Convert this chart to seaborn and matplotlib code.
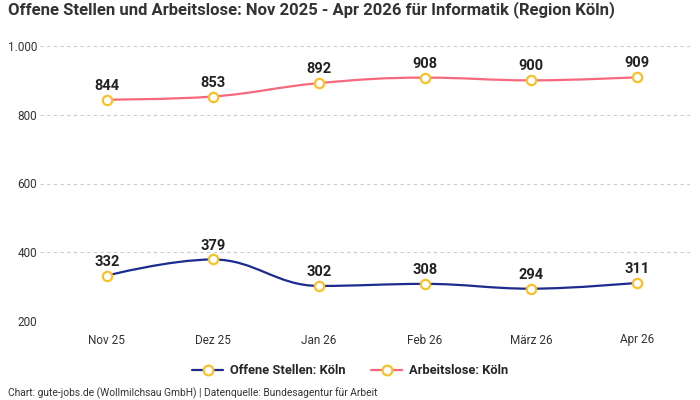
import matplotlib
matplotlib.use("Agg")
import matplotlib.pyplot as plt
import seaborn as sns
import pandas as pd
from matplotlib.path import Path
from matplotlib.patches import PathPatch
from matplotlib.lines import Line2D

months = ["Nov 25", "Dez 25", "Jan 26", "Feb 26", "März 26", "Apr 26"]
offene_stellen = [332, 379, 302, 308, 294, 311]
arbeitslose = [844, 853, 892, 908, 900, 909]
series_names = ["Offene Stellen: Köln", "Arbeitslose: Köln"]
series_colors = ["#1c2b8f", "#f7687d"]
y_ticks = [200, 400, 600, 800, 1000]
y_labels = ["200", "400", "600", "800", "1.000"]

sns.set_theme(style="white")
plt.rcParams["font.family"] = ["Roboto", "DejaVu Sans"]


def spline_path(xs, ys, smoothing=1.5):
    # cubic bezier through the points, control points like a highcharts spline
    denom = smoothing + 1
    n = len(xs)
    left = [None] * n
    right = [None] * n
    for i in range(n):
        if i == 0 or i == n - 1:
            left[i] = (xs[i], ys[i])
            right[i] = (xs[i], ys[i])
            continue
        lx = (smoothing * xs[i] + xs[i - 1]) / denom
        ly = (smoothing * ys[i] + ys[i - 1]) / denom
        rx = (smoothing * xs[i] + xs[i + 1]) / denom
        ry = (smoothing * ys[i] + ys[i + 1]) / denom
        corr = (ry - ly) * (rx - xs[i]) / (rx - lx) + ys[i] - ry
        ly += corr
        ry += corr
        if ly > ys[i - 1] and ly > ys[i]:
            ly = max(ys[i - 1], ys[i])
            ry = 2 * ys[i] - ly
        elif ly < ys[i - 1] and ly < ys[i]:
            ly = min(ys[i - 1], ys[i])
            ry = 2 * ys[i] - ly
        if ry > ys[i + 1] and ry > ys[i]:
            ry = max(ys[i + 1], ys[i])
            ly = 2 * ys[i] - ry
        elif ry < ys[i + 1] and ry < ys[i]:
            ry = min(ys[i + 1], ys[i])
            ly = 2 * ys[i] - ry
        left[i] = (lx, ly)
        right[i] = (rx, ry)
    verts = [(xs[0], ys[0])]
    codes = [Path.MOVETO]
    for i in range(1, n):
        verts += [right[i - 1], left[i], (xs[i], ys[i])]
        codes += [Path.CURVE4] * 3
    return Path(verts, codes)


fig = plt.figure(figsize=(7, 4), dpi=100)
ax = fig.add_axes([40 / 700, 1 - 321 / 400, 650 / 700, 275 / 400])

df = pd.DataFrame({"month": months * 2,
                   "x": list(range(len(months))) * 2,
                   "value": offene_stellen + arbeitslose,
                   "series": [series_names[0]] * 6 + [series_names[1]] * 6})

for name, color in zip(series_names, series_colors):
    sub = df[df["series"] == name]
    path = spline_path(list(sub["x"]), list(sub["value"]))
    ax.add_patch(PathPatch(path, facecolor="none", edgecolor=color, lw=1.6, zorder=2))
    for x, v in zip(sub["x"], sub["value"]):
        ax.annotate(str(v), (x, v), xytext=(0, 5), textcoords="offset points",
                    ha="center", va="bottom", fontsize=10.5, fontweight="bold",
                    color="#222222", zorder=4)

sns.scatterplot(data=df, x="x", y="value", marker="o", s=45, color="white",
                edgecolor="#f8c12c", linewidth=1.6, zorder=3, ax=ax, legend=False)

ax.set_xlim(-0.63, 5.5)
ax.set_ylim(200, 1000)
ax.set_yticks(y_ticks)
ax.set_yticklabels(y_labels)
ax.set_xticks(range(len(months)))
ax.set_xticklabels(months)
ax.set_xlabel("")
ax.set_ylabel("")
ax.tick_params(axis="both", length=0, labelsize=8.5, colors="#333333")
ax.tick_params(axis="y", pad=2)
ax.tick_params(axis="x", pad=9)
for lab in ax.get_yticklabels():
    lab.set_horizontalalignment("right")
ax.grid(axis="y", color="#cccccc", linestyle=(0, (3, 3)), linewidth=0.8)
ax.set_axisbelow(True)
sns.despine(ax=ax, left=True, bottom=True)

handles = [Line2D([0], [0], color=c, lw=1.6, marker="o", markersize=7,
                  markerfacecolor="white", markeredgecolor="#f8c12c", markeredgewidth=1.6)
           for c in series_colors]
fig.legend(handles, series_names, loc="center", bbox_to_anchor=(0.5, 1 - 371 / 400),
           ncol=2, frameon=False, prop={"weight": "bold", "size": 9.3},
           handlelength=2.4, columnspacing=2.0, handletextpad=0.5)

fig.text(8 / 700, 1 - 10 / 400, "Offene Stellen und Arbeitslose: Nov 2025 - Apr 2026 für Informatik (Region Köln)",
         ha="left", va="center", fontsize=12, fontweight="bold", color="#333333")
fig.text(8 / 700, 1 - 393 / 400, "Chart: gute-jobs.de (Wollmilchsau GmbH) | Datenquelle: Bundesagentur für Arbeit",
         ha="left", va="center", fontsize=7.4, color="#333333")

fig.savefig("out.png", dpi=100)
